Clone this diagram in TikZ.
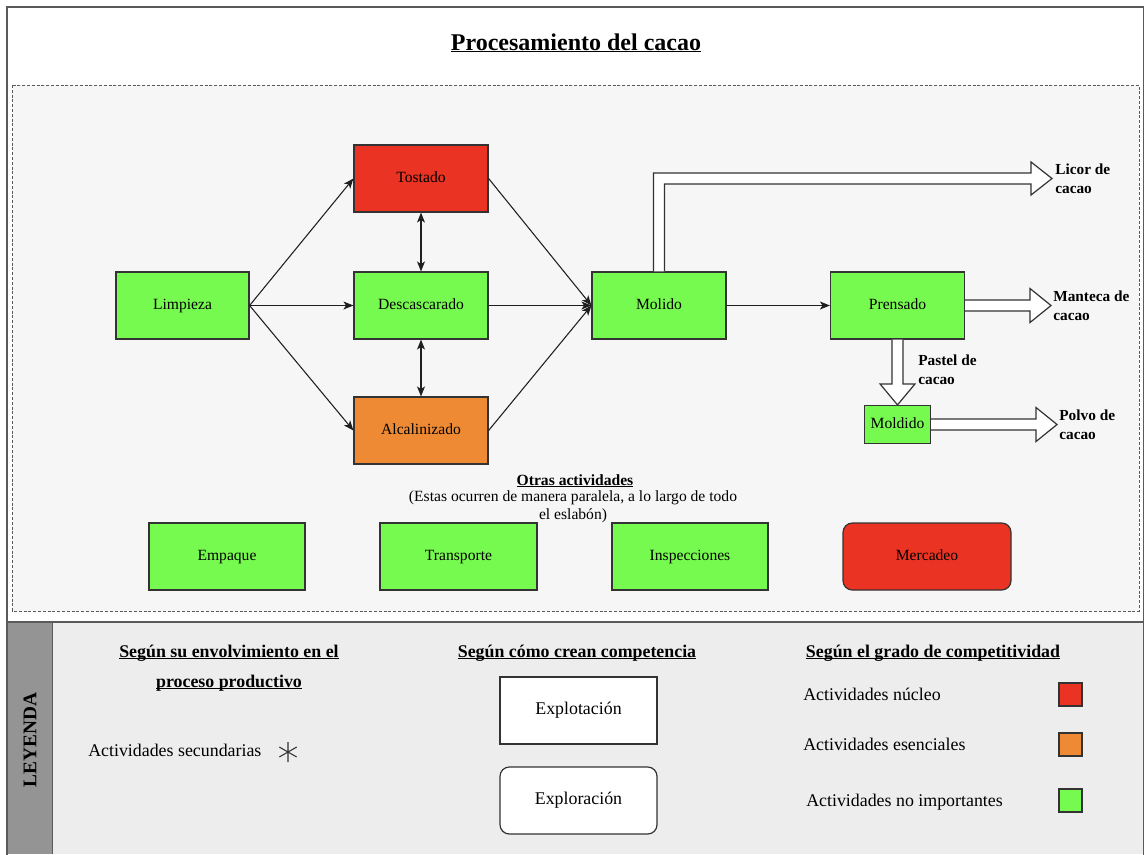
\documentclass[tikz,border=0pt]{standalone}
\usepackage{fontspec}
\setmainfont{Liberation Serif}
\usetikzlibrary{arrows.meta,calc}

\definecolor{corered}{HTML}{EA3323}
\definecolor{essorange}{HTML}{EF8A34}
\definecolor{minorgreen}{HTML}{76FA4F}
\definecolor{framegray}{HTML}{5A5A5A}
\definecolor{edgegray}{HTML}{333333}
\definecolor{panelbg}{HTML}{F6F6F6}
\definecolor{legendbg}{HTML}{EDEDED}
\definecolor{stripgray}{HTML}{949494}

% underline drawn just below the baseline
\newcommand\ultext[2][0.9pt]{\setbox0\hbox{#2}\rlap{\rule[-1.7pt]{\wd0}{#1}}\box0}

\tikzset{
  boxsize/.style 2 args={minimum width=#1*0.75pt, minimum height=#2*0.75pt},
  procbox/.style={draw=edgegray, line width=0.9pt, inner sep=0pt,
    text height=0.8em, text depth=0.2em,
    boxsize={134}{67}, font=\fontsize{11.7}{14}\selectfont},
  flow/.style={draw=black!88, line width=0.8pt,
    -{Stealth[length=7.5pt,width=6pt,inset=2pt]}},
  bothways/.style={draw=black!88, line width=0.8pt,
    {Stealth[length=7.5pt,width=6pt,inset=2pt]}-{Stealth[length=7.5pt,width=6pt,inset=2pt]}},
  blockarrow/.style={draw=edgegray, fill=white, line width=0.9pt, line join=miter},
  outlabel/.style={font=\bfseries\fontsize{11.5}{14.25}\selectfont, align=left, inner sep=0pt},
  legtext/.style={font=\fontsize{13.4}{16}\selectfont, inner sep=0pt},
  leghead/.style={font=\bfseries\fontsize{13.4}{16}\selectfont, inner sep=0pt},
  swatch/.style={draw=edgegray, line width=0.9pt, boxsize={23}{23}, inner sep=0pt},
}

\begin{document}
\begin{tikzpicture}[x=0.75pt, y=-0.75pt]
\useasboundingbox (0,0) rectangle (1144,854);

% page frame and process panel
\fill[white] (0,0) rectangle (1144,854);
\fill[panelbg] (12,85) rectangle (1139,611);
\draw[framegray, line width=0.7pt, dash pattern=on 2.2pt off 1.4pt] (12,85) rectangle (1139,611);

% legend area
\fill[legendbg] (7,622) rectangle (1144,854);
\fill[stripgray] (7,622) rectangle (52,854);
\draw[framegray, line width=0.7pt] (52,622) -- (52,854);
\draw[framegray, line width=1.3pt] (7,622) -- (1144,622);
\draw[framegray, line width=1.3pt] (7,860) -- (7,7) -- (1143.5,7) -- (1143.5,860);

% title
\node[font=\bfseries\fontsize{18}{22}\selectfont, anchor=base, inner sep=0pt] (title) at (576,50)
  {\ultext[1.2pt]{Procesamiento del cacao}};

% main process chain
\node[procbox, fill=minorgreen, boxsize={133}{67}] (lim) at (182.5,305.5) {Limpieza};
\node[procbox, fill=corered] (tos) at (421,178.5) {Tostado};
\node[procbox, fill=minorgreen] (des) at (421,305.5) {Descascarado};
\node[procbox, fill=essorange] (alc) at (421,430.5) {Alcalinizado};
\node[procbox, fill=minorgreen] (mol) at (659,305.5) {Molido};
\node[procbox, fill=minorgreen] (pre) at (897.5,305.5) {Prensado};
\node[procbox, fill=minorgreen, boxsize={66}{38}] (mold) at (897.5,424.5) {Moldido};

\draw[flow] (lim.east) -- (tos.west);
\draw[flow] (lim.east) -- (des.west);
\draw[flow] (lim.east) -- (alc.west);
\draw[flow] (tos.east) -- (mol.west);
\draw[flow] (des.east) -- (mol.west);
\draw[flow] (alc.east) -- (mol.west);
\draw[bothways] (tos.south) -- (des.north);
\draw[bothways] (des.south) -- (alc.north);
\draw[flow] (mol.east) -- (pre.west);

% product outputs (hollow block arrows)
\coordinate (licor) at (1052,178.5);
\coordinate (mant) at (1051,305.5);
\coordinate (polvo) at (1057,424.5);

\draw[blockarrow] ($(mol.north)+(-5.5,0)$) -- ($(mol.north |- licor)+(-5.5,-5.5)$)
  -- ($(licor)+(-21,-5.5)$) -- ($(licor)+(-21,-16.5)$) -- (licor)
  -- ($(licor)+(-21,16.5)$) -- ($(licor)+(-21,5.5)$)
  -- ($(mol.north |- licor)+(5.5,5.5)$) -- ($(mol.north)+(5.5,0)$);

\draw[blockarrow] ($(pre.east)+(0,-5.5)$) -- ($(mant)+(-21,-5.5)$) -- ($(mant)+(-21,-17)$)
  -- (mant) -- ($(mant)+(-21,17)$) -- ($(mant)+(-21,5.5)$) -- ($(pre.east)+(0,5.5)$);

\draw[blockarrow] ($(pre.south)+(-5.5,0)$) -- ($(mold.north)+(-5.5,-21)$) -- ($(mold.north)+(-17.5,-21)$)
  -- (mold.north) -- ($(mold.north)+(17.5,-21)$) -- ($(mold.north)+(5.5,-21)$) -- ($(pre.south)+(5.5,0)$);

\draw[blockarrow] ($(mold.east)+(0,-5.5)$) -- ($(polvo)+(-21,-5.5)$) -- ($(polvo)+(-21,-17)$)
  -- (polvo) -- ($(polvo)+(-21,17)$) -- ($(polvo)+(-21,5.5)$) -- ($(mold.east)+(0,5.5)$);

\node[outlabel, anchor=west] (licorlbl) at ($(licor)+(3,0)$) {Licor de\\cacao};
\node[outlabel, anchor=west] (mantlbl) at ($(mant)+(2,0)$) {Manteca de\\cacao};
\node[outlabel, anchor=west] (pastlbl) at (918,369.5) {Pastel de\\cacao};
\node[outlabel, anchor=west] (polvolbl) at ($(polvo)+(2,0)$) {Polvo de\\cacao};

% other activities
\node[font=\bfseries\fontsize{11.7}{14}\selectfont, anchor=base, inner sep=0pt] (otras) at (575,485)
  {\ultext[0.8pt]{Otras actividades}};
\node[font=\fontsize{11.7}{14}\selectfont, anchor=base, inner sep=0pt] (otras2) at (573,501)
  {(Estas ocurren de manera paralela, a lo largo de todo};
\node[font=\fontsize{11.7}{14}\selectfont, anchor=base, inner sep=0pt] (otras3) at (573,519)
  {el eslabón)};

\node[procbox, fill=minorgreen, boxsize={156}{67}] (emp) at (227,556.5) {Empaque};
\node[procbox, fill=minorgreen, boxsize={157}{67}] (tra) at (458.5,556.5) {Transporte};
\node[procbox, fill=minorgreen, boxsize={156}{67}] (ins) at (690,556.5) {Inspecciones};
\node[procbox, fill=corered, boxsize={168}{67}, rounded corners=7pt] (mer) at (927,556.5) {Mercadeo};

% legend
\node[font=\bfseries\fontsize{14.5}{17}\selectfont, rotate=90, inner sep=0pt] (leyenda) at (30,740) {LEYENDA};

\node[leghead, anchor=base] (head1a) at (229,657) {\ultext{Según su envolvimiento en el}};
\node[leghead, anchor=base] (head1b) at (229,687) {\ultext{proceso productivo}};
\node[legtext, anchor=base west] (sec) at (88,756) {Actividades secundarias};
\coordinate (star) at (288,752);
\draw[edgegray, line width=0.8pt] ($(star)+(0,-10)$) -- ($(star)+(0,10)$)
  ($(star)+(-8.7,-5)$) -- ($(star)+(8.7,5)$)
  ($(star)+(-8.7,5)$) -- ($(star)+(8.7,-5)$);

\node[leghead, anchor=base] (head2) at (577,657) {\ultext{Según cómo crean competencia}};
\node[procbox, fill=white, boxsize={157}{67}, font=\fontsize{13.4}{16}\selectfont] (explot) at (578.5,710.5) {Explotación};
\node[procbox, fill=white, boxsize={157}{67}, rounded corners=7pt, font=\fontsize{13.4}{16}\selectfont] (explor) at (578.5,800.5) {Exploración};

\node[leghead, anchor=base] (head3) at (933,657) {\ultext{Según el grado de competitividad}};
\node[legtext, anchor=base west] (nuc) at (803,700) {Actividades núcleo};
\node[legtext, anchor=base west] (ese) at (803,750) {Actividades esenciales};
\node[legtext, anchor=base west] (noimp) at (806,806) {Actividades no importantes};
\node[swatch, fill=corered] (swred) at (1070.5,694.5) {};
\node[swatch, fill=essorange] (swor) at (1070.5,744.5) {};
\node[swatch, fill=minorgreen] (swgr) at (1070.5,800.5) {};

\end{tikzpicture}
\end{document}
